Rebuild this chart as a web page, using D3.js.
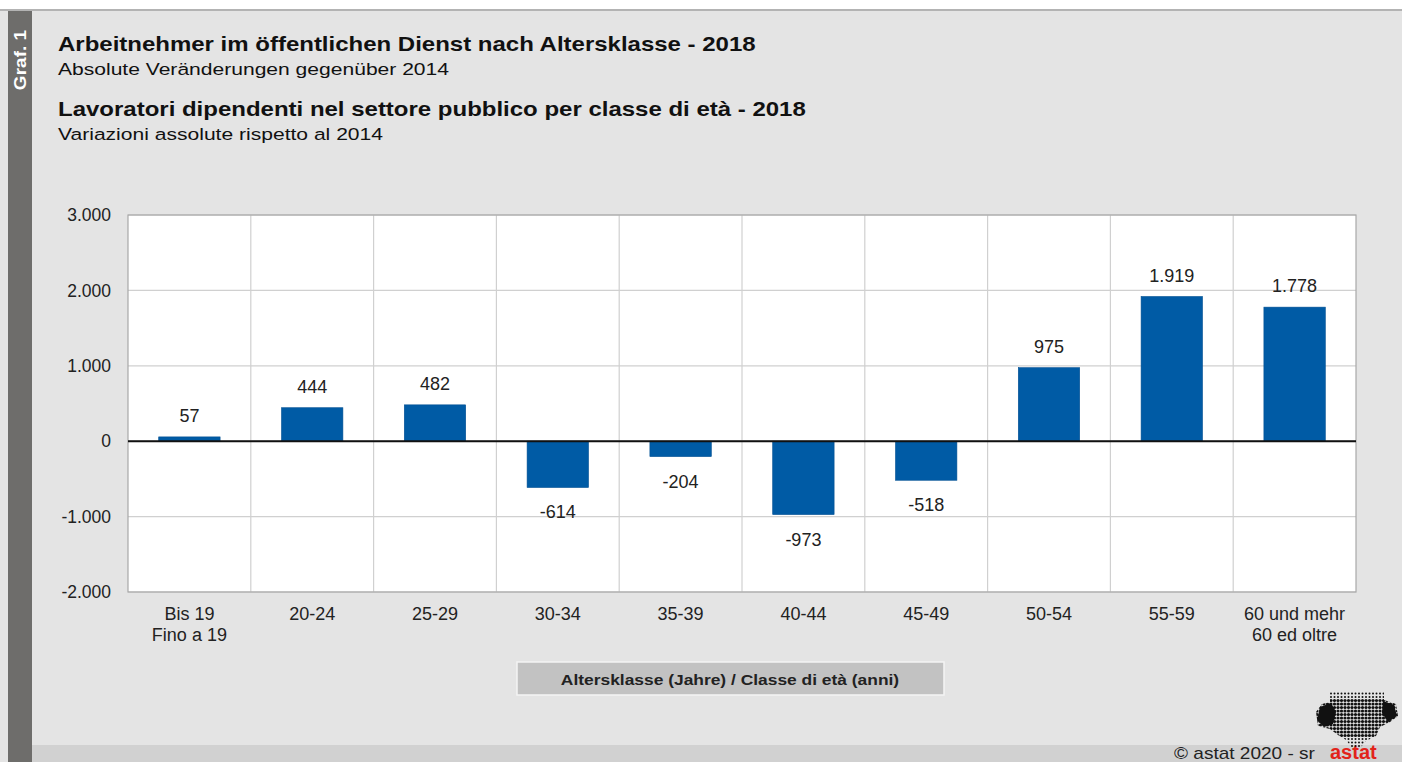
<!DOCTYPE html>
<html>
<head>
<meta charset="utf-8">
<script src="https://cdn.jsdelivr.net/npm/d3@7"></script>
<style>
  html, body { margin: 0; padding: 0; background: #ffffff; }
  svg { display: block; font-family: "Liberation Sans", Arial, sans-serif; }
</style>
</head>
<body>
<svg id="chart" width="1402" height="762"></svg>
<script>
// ── DATA ──────────────────────────────────────────────────────────────────────
const categories = ['Bis 19|Fino a 19', '20-24', '25-29', '30-34', '35-39', '40-44', '45-49', '50-54', '55-59', '60 und mehr|60 ed oltre'];
const values     = [57, 444, 482, -614, -204, -973, -518, 975, 1919, 1778];
const yTicks     = [-2000, -1000, 0, 1000, 2000, 3000];

const titleDe    = 'Arbeitnehmer im öffentlichen Dienst nach Altersklasse - 2018';
const subDe      = 'Absolute Veränderungen gegenüber 2014';
const titleIt    = 'Lavoratori dipendenti nel settore pubblico per classe di età - 2018';
const subIt      = 'Variazioni assolute rispetto al 2014';
const axisTitle  = 'Altersklasse (Jahre) / Classe di età (anni)';

// ── SETUP ─────────────────────────────────────────────────────────────────────
const W = 1402, H = 762;
const svg = d3.select('#chart');
const de = d3.formatLocale({ decimal: ',', thousands: '.', grouping: [3], currency: ['', ' €'], minus: '-' });
const fmt = de.format(',d');

// text placed at (x,y) and stretched horizontally by sx (source font is wider than ours)
function stretched(g, x, y, sx) {
  return g.append('text').attr('transform', `translate(${x},${y}) scale(${sx},1)`);
}

// page background
svg.append('rect').attr('width', W).attr('height', H).attr('fill', '#ffffff');
svg.append('rect').attr('x', 0).attr('y', 10).attr('width', W).attr('height', H - 10).attr('fill', '#e4e4e4');
svg.append('rect').attr('x', 0).attr('y', 9).attr('width', W).attr('height', 2).attr('fill', '#b3b3b3');
// bottom band
svg.append('rect').attr('x', 32).attr('y', 745).attr('width', W - 32).attr('height', H - 745).attr('fill', '#d1d1d1');
// left label bar
svg.append('rect').attr('x', 8).attr('y', 11).attr('width', 24).attr('height', H - 11).attr('fill', '#6e6d6b');
svg.append('text')
  .attr('transform', 'translate(26,60) rotate(-90) scale(1.12,1)')
  .attr('text-anchor', 'middle')
  .attr('fill', '#ffffff')
  .attr('font-size', 17)
  .attr('font-weight', 'bold')
  .text('Graf. 1');

// ── TITLES ────────────────────────────────────────────────────────────────────
const titles = [
  { t: titleDe, y: 51,  bold: true,  size: 20, sx: 1.2 },
  { t: subDe,   y: 75,  bold: false, size: 17, sx: 1.24 },
  { t: titleIt, y: 116, bold: true,  size: 20, sx: 1.2 },
  { t: subIt,   y: 140, bold: false, size: 17, sx: 1.24 }
];
titles.forEach(d => {
  stretched(svg, 58, d.y, d.sx)
    .attr('fill', '#111')
    .attr('font-size', d.size)
    .attr('font-weight', d.bold ? 'bold' : 'normal')
    .text(d.t);
});

// ── SCALES ────────────────────────────────────────────────────────────────────
const plot = { x0: 128, x1: 1356, y0: 215, y1: 592 };

const x = d3.scaleBand()
  .domain(categories)
  .range([plot.x0, plot.x1])
  .paddingInner(0.5)
  .paddingOuter(0.25);

const xOuter = d3.scaleBand().domain(categories).range([plot.x0, plot.x1]);

const y = d3.scaleLinear().domain([-2000, 3000]).range([plot.y1, plot.y0]);

// plot area
svg.append('rect')
  .attr('x', plot.x0).attr('y', plot.y0)
  .attr('width', plot.x1 - plot.x0).attr('height', plot.y1 - plot.y0)
  .attr('fill', '#ffffff');

// horizontal gridlines
svg.append('g').selectAll('line').data(yTicks).join('line')
  .attr('x1', plot.x0).attr('x2', plot.x1)
  .attr('y1', d => y(d)).attr('y2', d => y(d))
  .attr('stroke', '#d0d0d0').attr('stroke-width', 1.2);

// vertical gridlines at category boundaries
svg.append('g').selectAll('line').data(categories.slice(1)).join('line')
  .attr('x1', d => xOuter(d)).attr('x2', d => xOuter(d))
  .attr('y1', plot.y0).attr('y2', plot.y1)
  .attr('stroke', '#d0d0d0').attr('stroke-width', 1.2);

// border
svg.append('rect')
  .attr('x', plot.x0).attr('y', plot.y0)
  .attr('width', plot.x1 - plot.x0).attr('height', plot.y1 - plot.y0)
  .attr('fill', 'none').attr('stroke', '#a8a8a8').attr('stroke-width', 1.2);

// y axis labels
const yAxis = d3.axisLeft(y).tickValues(yTicks).tickFormat(fmt).tickSize(0).tickPadding(17);
const yg = svg.append('g').attr('transform', `translate(${plot.x0},0)`).call(yAxis);
yg.select('.domain').remove();
yg.selectAll('text').attr('font-size', 17.5).attr('fill', '#222').attr('font-family', '"Liberation Sans", Arial, sans-serif');

// ── BARS ──────────────────────────────────────────────────────────────────────
const data = categories.map((c, i) => ({ c, v: values[i] }));

svg.append('g').selectAll('rect').data(data).join('rect')
  .attr('x', d => x(d.c))
  .attr('width', x.bandwidth())
  .attr('y', d => y(Math.max(0, d.v)))
  .attr('height', d => Math.abs(y(d.v) - y(0)))
  .attr('fill', '#005ba5')
  .attr('stroke', '#004f92').attr('stroke-width', 0.6);

// zero line
svg.append('line')
  .attr('x1', plot.x0).attr('x2', plot.x1)
  .attr('y1', y(0)).attr('y2', y(0))
  .attr('stroke', '#111').attr('stroke-width', 2);

// value labels
svg.append('g').selectAll('text').data(data).join('text')
  .attr('x', d => x(d.c) + x.bandwidth() / 2)
  .attr('y', d => d.v >= 0 ? y(d.v) - 15 : y(d.v) + 31)
  .attr('text-anchor', 'middle')
  .attr('font-size', 18)
  .attr('fill', '#222')
  .text(d => fmt(d.v));

// x tick labels (two lines where needed)
const xl = svg.append('g').selectAll('text').data(categories).join('text')
  .attr('x', d => xOuter(d) + xOuter.bandwidth() / 2)
  .attr('y', 620)
  .attr('text-anchor', 'middle')
  .attr('font-size', 18)
  .attr('fill', '#222');
xl.selectAll('tspan').data(d => d.split('|')).join('tspan')
  .attr('x', function () { return d3.select(this.parentNode).attr('x'); })
  .attr('dy', (d, i) => i === 0 ? 0 : 21)
  .text(d => d);

// axis title box
svg.append('rect')
  .attr('x', 517).attr('y', 662).attr('width', 427).attr('height', 33)
  .attr('fill', '#c2c2c2').attr('stroke', '#f4f4f4').attr('stroke-width', 1.5);
stretched(svg, 730, 685, 1.16)
  .attr('text-anchor', 'middle')
  .attr('font-size', 15).attr('font-weight', 'bold').attr('fill', '#222')
  .text(axisTitle);

// ── FOOTER / LOGO ─────────────────────────────────────────────────────────────
stretched(svg, 1174, 759, 1.12)
  .attr('font-size', 17).attr('fill', '#222')
  .text('©  astat 2020 - sr');
svg.append('text')
  .attr('x', 1330).attr('y', 759)
  .attr('font-size', 20).attr('font-weight', 'bold').attr('fill', '#e2231a')
  .text('astat');

// dotted map logo
const defs = svg.append('defs');
defs.append('clipPath').attr('id', 'logo-clip').append('path')
  .attr('d', 'M1330,692 L1384,692 L1384,700 L1396,704 L1398,716 L1390,722 L1380,727 L1376,736 L1366,741 L1360,748 L1352,748 L1346,740 L1338,735 L1330,729 L1318,726 L1316,712 L1322,704 L1330,702 Z');
const dots = [];
for (let gx = 1317; gx <= 1398; gx += 3.5) {
  for (let gy = 693.5; gy <= 748; gy += 3.5) dots.push([gx, gy]);
}
const logo = svg.append('g').attr('clip-path', 'url(#logo-clip)');
logo.selectAll('circle').data(dots).join('circle')
  .attr('cx', d => d[0]).attr('cy', d => d[1])
  .attr('r', d => (d[1] > 700 && d[1] < 736 ? 1.6 : 1.0))
  .attr('fill', '#111');
svg.append('path')
  .attr('d', 'M1320,707 L1331,703 L1336,712 L1333,724 L1324,727 L1317,720 Z')
  .attr('fill', '#111');
svg.append('path')
  .attr('d', 'M1383,701 L1394,705 L1397,716 L1388,722 L1382,713 Z')
  .attr('fill', '#111');
</script>
</body>
</html>
